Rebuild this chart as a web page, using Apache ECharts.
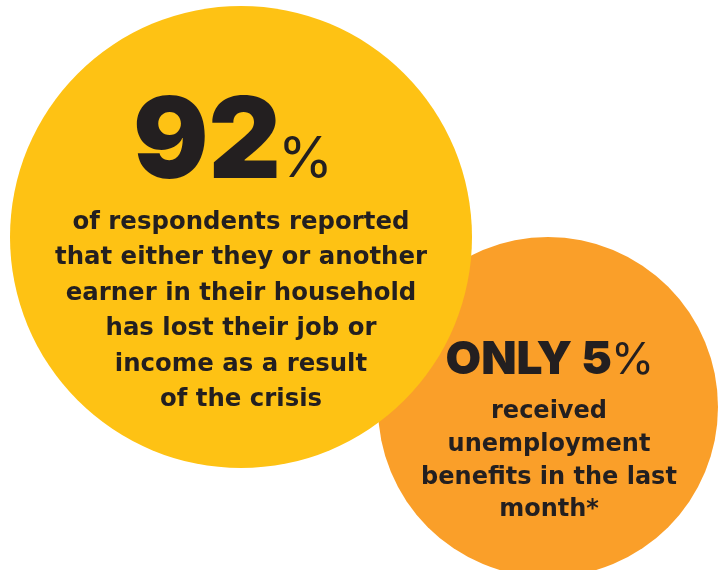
<!DOCTYPE html>
<html>
<head>
<meta charset="utf-8">
<script src="https://cdn.jsdelivr.net/npm/echarts@6/dist/echarts.min.js"></script>
<style>
html,body{margin:0;padding:0;background:#fff;}
#chart{width:723px;height:570px;}
</style>
</head>
<body>
<div id="chart"></div>
<script>
// ---- data ----
const categories = ['Lost job or income', 'Received unemployment benefits'];
const values = [92, 5];
const prefixes = ['', 'ONLY '];
const descriptions = [
  ['of respondents reported', 'that either they or another', 'earner in their household', 'has lost their job or', 'income as a result', 'of the crisis'],
  ['received', 'unemployment', 'benefits in the last', 'month*']
];

// ---- layout / style (not data) ----
const layout = [
  { cx: 241, cy: 237, r: 231, color: '#FEC214', z: 2,
    numSize: 112, numX: 281, numBase: 175, pctSize: 56, pctX: 278,
    descY: 311, descSize: 24.4, descLH: 35.5, descX: 241 },
  { cx: 548, cy: 407, r: 170, color: '#FA9F29', z: 1,
    numSize: 46, numX: 612, numBase: 373, pctSize: 44, pctX: 611,
    descY: 461, descSize: 24, descLH: 32.7, descX: 549 }
];
const ink = '#231F20';
const ASC = 0.77; // top-of-box to baseline ratio for the font
const headFont = 'Inter';
const bodyFont = '"DejaVu Sans"';

function draw() {
  const chart = echarts.init(document.getElementById('chart'), null, { renderer: 'canvas' });
  chart.setOption({
    animation: false,
    series: [{
      type: 'custom',
      coordinateSystem: 'none',
      data: values.map((v, i) => ({ name: categories[i], value: v })),
      renderItem: function (params, api) {
        const i = params.dataIndex;
        const L = layout[i];
        const v = api.value(0);
        return {
          type: 'group',
          children: [
            { type: 'circle', shape: { cx: L.cx, cy: L.cy, r: L.r }, style: { fill: L.color }, z2: L.z * 10 },
            { type: 'text', z2: L.z * 10 + 1,
              style: { text: prefixes[i] + v, x: L.numX, y: L.numBase - ASC * L.numSize, textAlign: 'right', textVerticalAlign: 'top',
                font: '900 ' + L.numSize + 'px ' + headFont, fill: ink } },
            { type: 'text', z2: L.z * 10 + 1,
              style: { text: '%', x: L.pctX, y: L.numBase - ASC * L.pctSize, textAlign: 'left', textVerticalAlign: 'top',
                font: '400 ' + L.pctSize + 'px ' + headFont, fill: ink } },
            { type: 'text', z2: L.z * 10 + 1,
              style: { text: descriptions[i].join('\n'), x: L.descX, y: L.descY, textAlign: 'center', textVerticalAlign: 'middle',
                lineHeight: L.descLH, font: 'bold ' + L.descSize + 'px ' + bodyFont, fill: ink } }
          ]
        };
      }
    }]
  });
}

if (document.fonts && document.fonts.load) {
  Promise.all([
    document.fonts.load('900 112px ' + headFont),
    document.fonts.load('400 56px ' + headFont),
    document.fonts.load('bold 24px ' + bodyFont)
  ]).then(draw, draw);
} else {
  draw();
}
</script>
</body>
</html>
